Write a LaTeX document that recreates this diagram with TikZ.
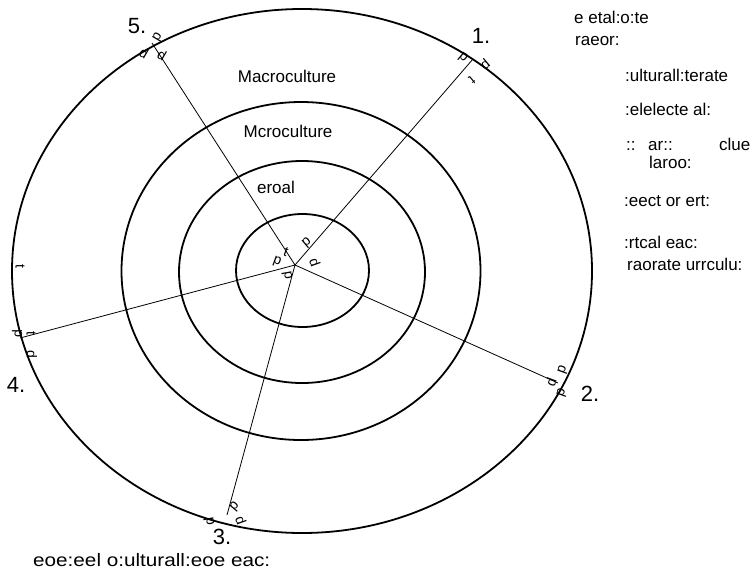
\documentclass[tikz,border=0pt]{standalone}
\usepackage{fontspec}
\setmainfont{Liberation Sans}
\usetikzlibrary{shapes.geometric}
\begin{document}
\begin{tikzpicture}[x=1pt,y=-1pt,
  ring/.style={draw,line width=1.8pt,ellipse,inner sep=0pt},
  spoke/.style={line width=0.8pt},
  lbl/.style={font=\fontsize{17}{19}\selectfont,inner sep=0pt},
  txt/.style={font=\fontsize{17}{19}\selectfont,inner sep=0pt,anchor=base west},
  num/.style={font=\fontsize{22}{24}\selectfont,inner sep=0pt},
  mk/.style={font=\fontsize{14}{15}\selectfont,inner sep=0pt}]
\useasboundingbox (0,0) rectangle (752,571);
% rings
\node[ring,minimum width=580pt,minimum height=524pt] (r4) at (302,271) {};
\node[ring,minimum width=359pt,minimum height=338pt] (r3) at (301,271) {};
\node[ring,minimum width=246pt,minimum height=222pt] (r2) at (302,272) {};
\node[ring,minimum width=133pt,minimum height=113pt] (r1) at (302.5,270.5) {};
% spokes
\coordinate (hub) at (295,265);
\coordinate (e1) at (473,59);
\coordinate (e2) at (558,383);
\coordinate (e3) at (227,515);
\coordinate (e4) at (20,338);
\coordinate (e5) at (152,43);
\draw[spoke] (hub) -- (e1);
\draw[spoke] (hub) -- (e2);
\draw[spoke] (hub) -- (e3);
\draw[spoke] (hub) -- (e4);
\draw[spoke] (hub) -- (e5);
% ring labels
\node[lbl] (t1) at (287,76) {Macroculture};
\node[lbl] (t2) at (288,131) {Mcroculture};
\node[lbl] (t3) at (276,187) {eroal};
% numbers
\node[num] (n1) at (481,36) {1.};
\node[num] (n2) at (590,394) {2.};
\node[num] (n3) at (222,537) {3.};
\node[num] (n4) at (16,385) {4.};
\node[num] (n5) at (137,26) {5.};
% marks
\node[mk,rotate=-140] (m1) at (307,243) {d};
\node[mk,rotate=-70] (m2) at (315,262) {d};
\node[mk,rotate=100] (m3) at (287,276) {d};
\node[mk,rotate=160] (m4) at (277,262) {d};
\node[mk,rotate=-20] (m5) at (286,252) {t};
\node[mk,rotate=140] (m6) at (463,58) {d};
\node[mk,rotate=40] (m7) at (485,64) {d};
\node[mk,rotate=-140] (m8) at (472,80) {t};
\node[mk,rotate=-30] (m9) at (144,53) {d};
\node[mk,rotate=-120] (m10) at (158,37) {d};
\node[mk,rotate=-30] (m11) at (162,55) {d};
\node[mk,rotate=-90] (m12) at (20,266) {t};
\node[mk,rotate=90] (m13) at (17,334) {d};
\node[mk,rotate=-90] (m14) at (31,333) {t};
\node[mk,rotate=-90] (m15) at (32,354) {d};
\node[mk,rotate=-110] (m16) at (563,370) {d};
\node[mk,rotate=70] (m17) at (551,382) {d};
\node[mk,rotate=-110] (m18) at (562,393) {d};
\node[mk,rotate=100] (m19) at (209,522) {d};
\node[mk,rotate=-70] (m20) at (241,520) {d};
\node[mk,rotate=-130] (m21) at (235,507) {d};
% right legend
\node[txt] (l1) at (574,23) {e etal:o:te};
\node[txt] (l2) at (575,45) {raeor:};
\node[txt] (l3) at (625,81) {:ulturall:terate};
\node[txt] (l4) at (625,115) {:elelecte al:};
\node[txt] (l5) at (626,150) {::};
\node[txt] (l5b) at (648,150) {ar::};
\node[txt] (l5c) at (719,150) {clue};
\node[txt] (l6) at (649,168) {laroo:};
\node[txt] (l7) at (624,206) {:eect or ert:};
\node[txt] (l8) at (624,248) {:rtcal eac:};
\node[txt] (l9) at (627,270) {raorate urrculu:};
% bottom caption
\node[txt,font=\fontsize{18}{20}\selectfont] (cap) at (33,566) {\scalebox{1.15}[1]{eoe:eel o:ulturall:eoe eac:}};
\end{tikzpicture}
\end{document}
